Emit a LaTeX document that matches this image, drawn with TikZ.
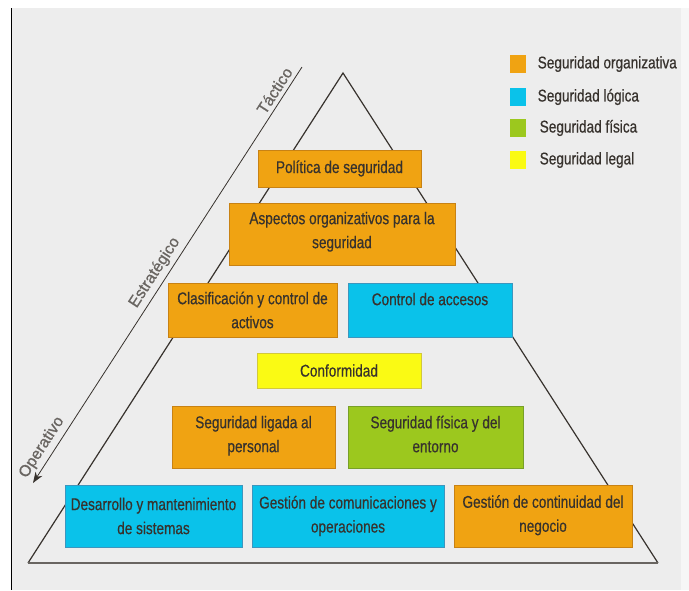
\documentclass[tikz,border=0pt]{standalone}
\usepackage{fontspec}
\setmainfont{Liberation Sans}[FakeStretch=0.8]
\newfontfamily\boxfont{Liberation Sans}[FakeStretch=0.8,FakeBold=0.5]
\newfontfamily\levelfont{Liberation Sans}[FakeBold=0.8]
\usetikzlibrary{arrows.meta}
\definecolor{orga}{RGB}{240,163,18}
\definecolor{orgaline}{RGB}{200,130,20}
\definecolor{logi}{RGB}{10,194,234}
\definecolor{logiline}{RGB}{60,150,190}
\definecolor{fisi}{RGB}{156,200,30}
\definecolor{fisiline}{RGB}{120,160,40}
\definecolor{lega}{RGB}{250,250,20}
\definecolor{legaline}{RGB}{210,200,60}
\definecolor{paper}{RGB}{237,237,237}
\definecolor{ink}{RGB}{55,50,45}
\begin{document}
\begin{tikzpicture}
[x=1pt,y=-1pt,
  boxdecorate/.style={draw,line width=0.8pt,inner sep=0pt,outer sep=0pt,align=center,
    text=ink,font=\boxfont\fontsize{17}{24}\selectfont},%
  orgbox/.style={boxdecorate,fill=orga,draw=orgaline},%
  logbox/.style={boxdecorate,fill=logi,draw=logiline},%
  fisbox/.style={boxdecorate,fill=fisi,draw=fisiline},%
  legbox/.style={boxdecorate,fill=lega,draw=legaline},%
  keydecorate/.style={minimum width=16pt,minimum height=18pt,inner sep=0pt,draw=none},%
  keytext/.style={anchor=west,text=ink,font=\boxfont\fontsize{17}{19}\selectfont},%
  leveltext/.style={sloped,above=3pt,inner sep=1pt,text=ink!75,font=\levelfont\fontsize{16}{18}\selectfont},%
  arrowdecorate/.style={-{Stealth[length=11pt,width=8pt]},line width=0.8pt,draw=ink}]
% paper
\useasboundingbox (0,0) rectangle (689,590);
\fill[white] (0,0) rectangle (689,590);
\fill[paper] (12,8) rectangle (681,590);
\fill[paper!50!white] (681,8) rectangle (689,590);
\draw[black,line width=1.8pt] (11.5,8) -- (11.5,590);
% pyramid
\coordinate (apex) at (343,73);
\coordinate (bl) at (28,563);
\coordinate (br) at (658,563);
\draw[line width=1.2pt,ink] (bl) -- (apex) -- (br);
\draw[line width=2pt,ink!75] (bl) -- (br);
% levels
\coordinate (top) at (302,67);
\coordinate (bot) at (33,483);
\draw[arrowdecorate] (top) -- (bot)
  node[leveltext,pos=0.07] {Táctico}
  node[leveltext,pos=0.51] {Estratégico}
  node[leveltext,pos=0.93] {Operativo};
% nodes or boxes
\node (pol) at (339.5,168.5) [orgbox,minimum width=163pt,minimum height=37pt] {Política de seguridad};
\node (asp) at (342,234) [orgbox,minimum width=226pt,minimum height=62pt,text depth=8pt] {Aspectos organizativos para la\\seguridad};
\node (cla) at (252.5,310) [orgbox,minimum width=169pt,minimum height=54pt] {Clasificación y control de\\activos};
\node (acc) at (430,310) [logbox,minimum width=164pt,minimum height=54pt,text depth=22pt] {Control de accesos};
\node (con) at (339,370.5) [legbox,minimum width=164pt,minimum height=35pt] {Conformidad};
\node (per) at (253.5,437) [orgbox,minimum width=163pt,minimum height=62pt,text depth=6pt] {Seguridad ligada al\\personal};
\node (fis) at (435.5,437) [fisbox,minimum width=175pt,minimum height=62pt,text depth=6pt] {Seguridad física y del\\entorno};
\node (des) at (153.5,516) [logbox,minimum width=177pt,minimum height=62pt] {Desarrollo y mantenimiento\\de sistemas};
\node (com) at (348,516) [logbox,minimum width=192pt,minimum height=62pt] {Gestión de comunicaciones y\\operaciones};
\node (neg) at (543,516) [orgbox,minimum width=178pt,minimum height=62pt,text depth=5pt] {Gestión de continuidad del\\negocio};
% legend
\node (korg) at (518,64) [keydecorate,fill=orga] {};
\node [keytext] at ([xshift=8pt]korg.east) {Seguridad organizativa};
\node (klog) at (518,97) [keydecorate,fill=logi] {};
\node [keytext] at ([xshift=8pt]klog.east) {Seguridad lógica};
\node (kfis) at (518,128) [keydecorate,fill=fisi] {};
\node [keytext] at ([xshift=10pt]kfis.east) {Seguridad física};
\node (kleg) at (518,160) [keydecorate,fill=lega] {};
\node [keytext] at ([xshift=10pt]kleg.east) {Seguridad legal};
\end{tikzpicture}
\end{document}
